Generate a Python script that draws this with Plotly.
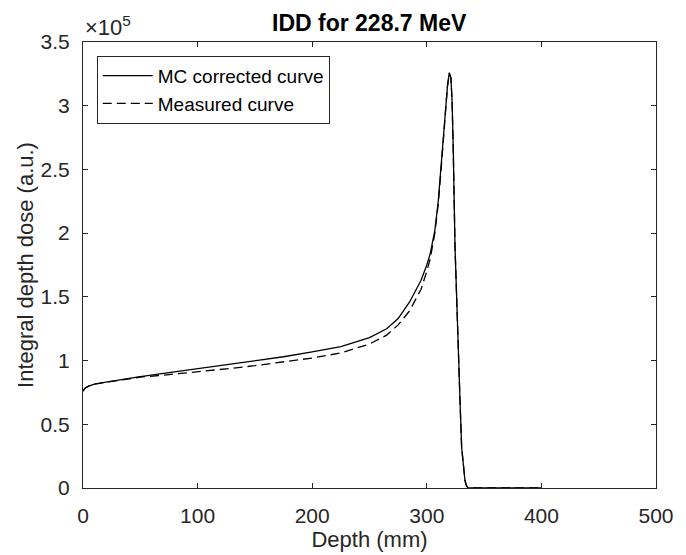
import numpy as np
import plotly.graph_objects as go

# Data (dose values in units of 1e5)
depth_mm = [0, 2, 5, 10, 20, 30, 50, 75, 100, 125, 150, 175, 200, 225, 250, 265, 275,
            285, 295, 300, 303, 307, 310, 313, 316, 318, 319.6, 321, 322, 323, 324.6, 326,
            327.5, 329, 330.4, 332, 333.3, 334.5, 336, 340, 360, 400]
mc_corrected = [0.76, 0.785, 0.80, 0.815, 0.83, 0.845, 0.874, 0.905, 0.935, 0.965, 0.995,
                1.03, 1.068, 1.11, 1.18, 1.25, 1.33, 1.46, 1.63, 1.75, 1.84, 2.02, 2.25, 2.58,
                2.95, 3.15, 3.26, 3.22, 3.05, 2.70, 1.90, 1.45, 1.08, 0.68, 0.32, 0.14,
                0.06, 0.02, 0.0, 0.0, 0.0, 0.0]
measured = [0.76, 0.785, 0.80, 0.815, 0.83, 0.845, 0.870, 0.890, 0.910, 0.935, 0.960,
            0.99, 1.02, 1.06, 1.13, 1.20, 1.28, 1.39, 1.56, 1.70, 1.80, 2.00, 2.23, 2.56,
            2.95, 3.15, 3.25, 3.22, 3.05, 2.70, 1.90, 1.45, 1.08, 0.68, 0.32, 0.14,
            0.06, 0.02, 0.0, 0.0, 0.0, 0.0]
scale = 1e5

x_ticks = [0, 100, 200, 300, 400, 500]
y_ticks = [0, 0.5, 1, 1.5, 2, 2.5, 3, 3.5]
y_tick_text = ["0", "0.5", "1", "1.5", "2", "2.5", "3", "3.5"]

title_text = "IDD for 228.7 MeV"
x_label = "Depth (mm)"
y_label = "Integral depth dose (a.u.)"
series_names = ["MC corrected curve", "Measured curve"]

FONT = "Liberation Sans, Arial, Helvetica, sans-serif"
AX = "#262626"

fig = go.Figure()
fig.add_trace(go.Scatter(x=depth_mm, y=np.array(mc_corrected) * scale, mode="lines",
                         name=series_names[0], line=dict(color="black", width=1.3)))
fig.add_trace(go.Scatter(x=depth_mm, y=np.array(measured) * scale, mode="lines",
                         name=series_names[1],
                         line=dict(color="black", width=1.3, dash="9px,5px")))

axis_common = dict(showline=True, linecolor=AX, linewidth=1, mirror="ticks",
                   ticks="inside", ticklen=5, tickcolor=AX, tickwidth=1,
                   showgrid=False, zeroline=False, automargin=False,
                   tickfont=dict(family=FONT, size=21, color=AX))

fig.update_xaxes(range=[0, 500], tickvals=x_ticks, ticklabelstandoff=9,
                 title=dict(text=x_label, font=dict(family=FONT, size=22, color=AX), standoff=2),
                 **axis_common)
fig.update_yaxes(range=[0, 3.5 * scale], tickvals=[v * scale for v in y_ticks],
                 ticktext=y_tick_text, ticklabelstandoff=8,
                 title=dict(text=y_label, font=dict(family=FONT, size=22, color=AX), standoff=0),
                 **axis_common)

fig.update_layout(
    width=678, height=547,
    margin=dict(l=75, r=30, t=34, b=67),
    paper_bgcolor="white", plot_bgcolor="white",
    showlegend=True,
    legend=dict(x=0.024, y=0.969, xanchor="left", yanchor="top",
                bgcolor="white", bordercolor=AX, borderwidth=1,
                font=dict(family=FONT, size=19, color="black"),
                tracegroupgap=0, itemwidth=50),
    annotations=[
        dict(text="<b>" + title_text + "</b>", xref="paper", yref="paper",
             x=0.5, y=1.0, xanchor="center", yanchor="bottom", yshift=4,
             showarrow=False, font=dict(family=FONT, size=23, color="black")),
        dict(text="×10<sup>5</sup>", xref="paper", yref="paper", x=0.0, y=1.0,
             xanchor="left", yanchor="bottom", yshift=0, showarrow=False,
             font=dict(family=FONT, size=22, color=AX)),
    ],
)

fig.write_html("out.html")
